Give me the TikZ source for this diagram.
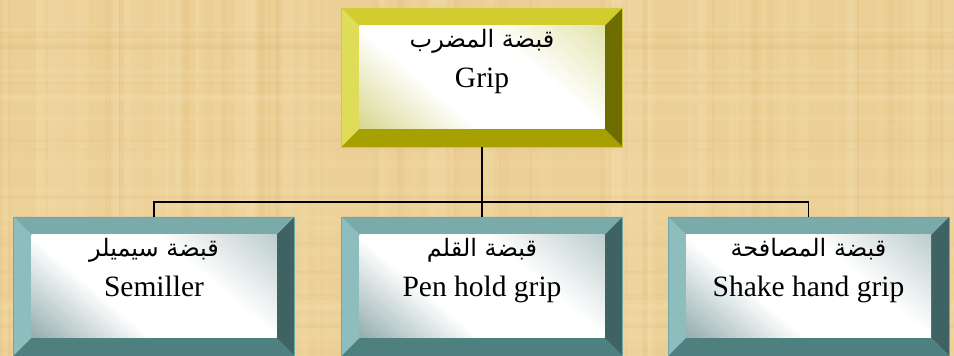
\documentclass[tikz,border=0pt]{standalone}
\usepackage{fontspec}
\setmainfont{Liberation Serif}
\newfontfamily\arabicfont[Script=Arabic]{DejaVu Sans}
\TeXXeTstate=1
\usetikzlibrary{calc}

\definecolor{paper}{HTML}{ECCF95}
\definecolor{paperlt}{HTML}{F6E3B4}
\definecolor{paperdk}{HTML}{DDB97A}
\definecolor{tealtop}{HTML}{7BAAAA}
\definecolor{tealleft}{HTML}{8EBDBD}
\definecolor{tealright}{HTML}{3F6262}
\definecolor{tealbot}{HTML}{4F8080}
\definecolor{tealedge}{HTML}{6FA6A6}
\definecolor{tealdark}{HTML}{7E9C9C}
\definecolor{tealgray}{HTML}{B0C3C3}
\definecolor{ytop}{HTML}{D2CC2E}
\definecolor{yleft}{HTML}{DEDC58}
\definecolor{yright}{HTML}{6E6E00}
\definecolor{ybot}{HTML}{A6A000}
\definecolor{yedge}{HTML}{CFCB3A}
\definecolor{ydark}{HTML}{CFCF78}
\definecolor{ygray}{HTML}{DEDE9C}

\pgfdeclarehorizontalshading{tealface}{100bp}{color(0bp)=(tealdark); color(10bp)=(tealdark); color(38bp)=(white); color(62bp)=(white); color(90bp)=(tealgray); color(100bp)=(tealgray)}
\pgfdeclarehorizontalshading{yface}{100bp}{color(0bp)=(ydark); color(10bp)=(ydark); color(38bp)=(white); color(62bp)=(white); color(90bp)=(ygray); color(100bp)=(ygray)}

\tikzset{
  bevel/.style n args={5}{
    rectangle, minimum width=281pt, minimum height=139pt, inner sep=0pt, outer sep=0pt,
    path picture={
      \coordinate (bsw) at (path picture bounding box.south west);
      \coordinate (bne) at (path picture bounding box.north east);
      \coordinate (bnw) at (path picture bounding box.north west);
      \coordinate (bse) at (path picture bounding box.south east);
      \coordinate (isw) at ($(bsw)+(18,18)$);
      \coordinate (ine) at ($(bne)+(-18,-18)$);
      \coordinate (inw) at ($(bnw)+(18,-18)$);
      \coordinate (ise) at ($(bse)+(-18,18)$);
      \fill[#1] (bnw) -- (bne) -- (ine) -- (inw) -- cycle;
      \fill[#2] (bnw) -- (bsw) -- (isw) -- (inw) -- cycle;
      \fill[#3] (bne) -- (bse) -- (ise) -- (ine) -- cycle;
      \fill[#4] (bsw) -- (bse) -- (ise) -- (isw) -- cycle;
      \shade[shading=#5, shading angle=50] (isw) rectangle (ine);
    }},
  tealbox/.style={bevel={tealtop}{tealleft}{tealright}{tealbot}{tealface}, draw=tealedge, line width=0.8pt},
  yelbox/.style={bevel={ytop}{yleft}{yright}{ybot}{yface}, draw=yedge, line width=0.8pt},
  entext/.style={anchor=base, inner sep=0pt, font=\fontsize{29.5}{34}\selectfont},
  artext/.style={anchor=base, inner sep=0pt, font=\arabicfont\fontsize{24}{28}\selectfont},
  conn/.style={draw=black, line width=1.3pt},
}

\begin{document}
\begin{tikzpicture}[x=1pt,y=1pt]
  \useasboundingbox (0,0) rectangle (954,356);
  % papyrus background
  \fill[paper] (0,0) rectangle (954,356);
  \pgfmathsetseed{7}
  \foreach \i in {1,...,70}{
    \pgfmathsetmacro\xx{rnd*954}
    \pgfmathsetmacro\ww{2+rnd*14}
    \pgfmathsetmacro\op{0.08+rnd*0.18}
    \fill[paperlt, opacity=\op] (\xx,0) rectangle ++(\ww,356);
  }
  \foreach \i in {1,...,45}{
    \pgfmathsetmacro\xx{rnd*954}
    \pgfmathsetmacro\ww{1+rnd*6}
    \pgfmathsetmacro\op{0.06+rnd*0.15}
    \fill[paperdk, opacity=\op] (\xx,0) rectangle ++(\ww,356);
  }
  \foreach \i in {1,...,30}{
    \pgfmathsetmacro\yy{rnd*356}
    \pgfmathsetmacro\hh{2+rnd*10}
    \pgfmathsetmacro\op{0.06+rnd*0.14}
    \fill[paperlt, opacity=\op] (0,\yy) rectangle ++(954,\hh);
  }
  \foreach \i in {1,...,20}{
    \pgfmathsetmacro\yy{rnd*356}
    \pgfmathsetmacro\hh{1+rnd*5}
    \pgfmathsetmacro\op{0.05+rnd*0.12}
    \fill[paperdk, opacity=\op] (0,\yy) rectangle ++(954,\hh);
  }

  % boxes
  \node[yelbox] (grip) at (482,278.5) {};
  \node[tealbox] (semi) at (154,69.5) {};
  \node[tealbox] (pen) at (482,69.5) {};
  \node[tealbox] (shake) at (808.5,69.5) {};

  % connectors
  \coordinate (junc) at (482,154);
  \draw[conn] (grip.south) -- (pen.north);
  \draw[conn] (semi.north) |- (junc) -| (shake.north);

  % texts
  \node[artext] (grip-ar) at ($(grip.north)+(0,-40)$) {\beginR قبضة المضرب\endR};
  \node[entext] (grip-en) at ($(grip.north)+(0,-79.5)$) {Grip};
  \node[artext] (semi-ar) at ($(semi.north)+(0,-40)$) {\beginR قبضة سيميلر\endR};
  \node[entext] (semi-en) at ($(semi.north)+(0,-79.5)$) {Semiller};
  \node[artext] (pen-ar) at ($(pen.north)+(0,-40)$) {\beginR قبضة القلم\endR};
  \node[entext] (pen-en) at ($(pen.north)+(0,-79.5)$) {Pen hold grip};
  \node[artext] (shake-ar) at ($(shake.north)+(0,-40)$) {\beginR قبضة المصافحة\endR};
  \node[entext] (shake-en) at ($(shake.north)+(0,-79.5)$) {Shake hand grip};
\end{tikzpicture}
\end{document}
